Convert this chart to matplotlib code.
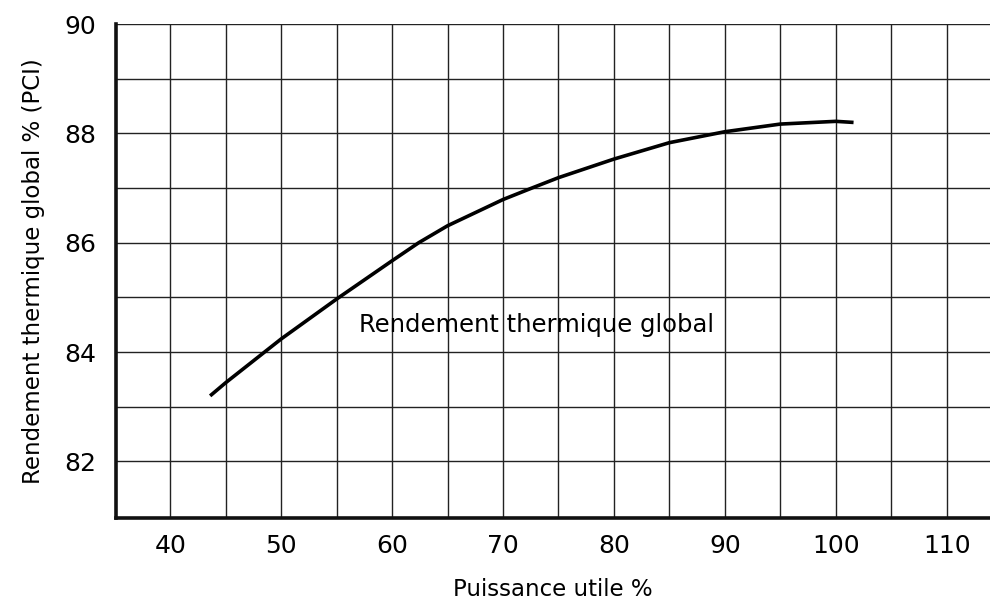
import matplotlib
matplotlib.use("Agg")
import matplotlib.pyplot as plt
import numpy as np

# values
puissance = [43.6, 45, 50, 55, 60, 62.4, 65, 70, 72.6, 75, 80, 85, 90, 95, 100, 101.6]
rendement = [83.2, 83.44, 84.24, 84.97, 85.67, 86.0, 86.31, 86.79, 87.0, 87.19, 87.53, 87.83, 88.03, 88.17, 88.22, 88.20]

x_ticks = [40, 50, 60, 70, 80, 90, 100, 110]
y_ticks = [82, 84, 86, 88, 90]


def main():
    fig = plt.figure(figsize=(9.9, 6), dpi=100)
    ax = fig.add_axes([0.117, 0.137, 0.883, 0.823])

    # grid every 5 % in x, every 1 point in y
    for gx in np.arange(40, 115, 5):
        ax.axvline(gx, color='#222222', lw=1.0, zorder=1)
    for gy in np.arange(82, 91, 1):
        ax.axhline(gy, color='#222222', lw=1.0, zorder=1)

    ax.plot(puissance, rendement, color='black', lw=2.6, solid_capstyle='butt',
            solid_joinstyle='round', zorder=3)

    ax.text(57.0, 84.49, 'Rendement thermique global', fontsize=17.5,
            va='center', ha='left', zorder=4)

    ax.set_xlim(35.1, 113.9)
    ax.set_ylim(80.97, 90)
    ax.set_xticks(x_ticks)
    ax.set_yticks(y_ticks)
    ax.tick_params(length=0, labelsize=18, colors='black')
    ax.tick_params(axis='x', pad=12)
    ax.tick_params(axis='y', pad=14)

    for s in ['top', 'right']:
        ax.spines[s].set_visible(False)
    for s in ['left', 'bottom']:
        ax.spines[s].set_linewidth(2.6)
        ax.spines[s].set_color('#111111')

    ax.set_xlabel('Puissance utile %', fontsize=16.5, labelpad=14)
    ax.set_ylabel('Rendement thermique global % (PCI)', fontsize=16.5, labelpad=14)

    fig.savefig('out.png', dpi=100)


if __name__ == "__main__":
    main()
